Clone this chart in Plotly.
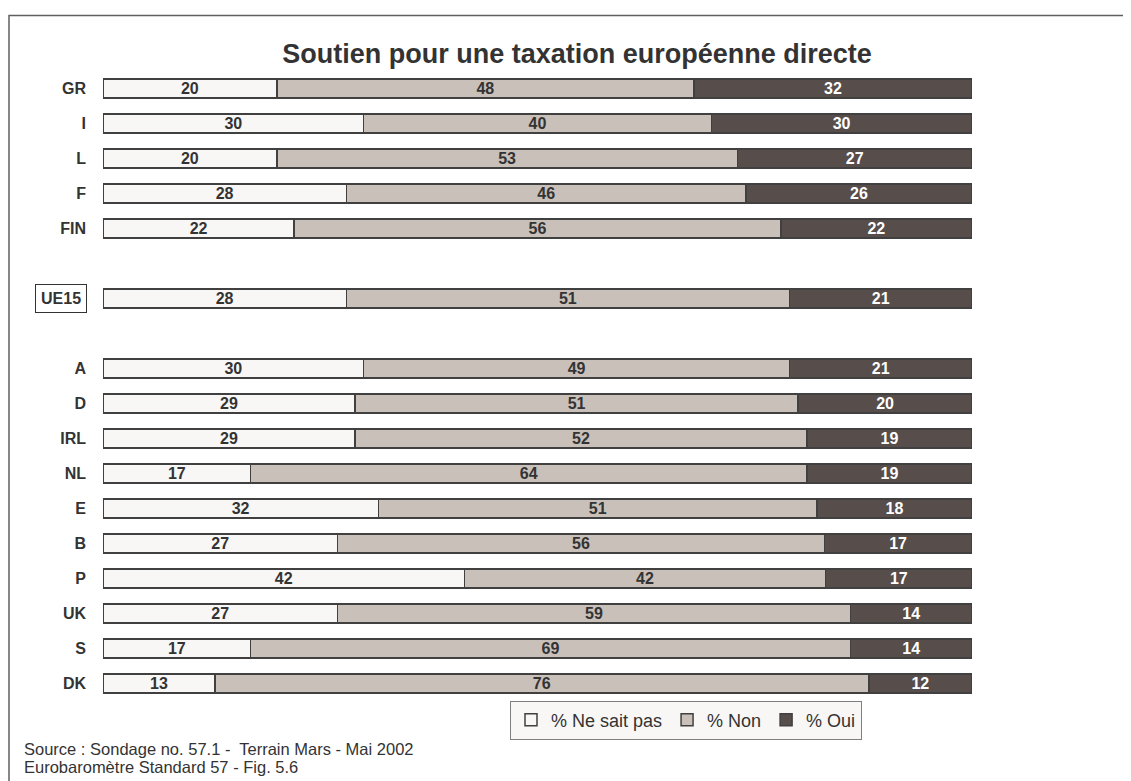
import plotly.graph_objects as go

# ---- data ----
countries = ["GR", "I", "L", "F", "FIN", " ", "UE15", "  ", "A", "D", "IRL", "NL", "E", "B", "P", "UK", "S", "DK"]
ne_sait_pas = [20, 30, 20, 28, 22, None, 28, None, 30, 29, 29, 17, 32, 27, 42, 27, 17, 13]
non = [48, 40, 53, 46, 56, None, 51, None, 49, 51, 52, 64, 51, 56, 42, 59, 69, 76]
oui = [32, 30, 27, 26, 22, None, 21, None, 21, 20, 19, 19, 18, 17, 17, 14, 14, 12]
series_names = ["% Ne sait pas", "% Non", "% Oui"]
tick_labels = [c if c != "UE15" else "" for c in countries]

title = "Soutien pour une taxation européenne directe"
source_lines = ["Source : Sondage no. 57.1 -  Terrain Mars - Mai 2002",
                "Eurobaromètre Standard 57 - Fig. 5.6"]

colors = ["#F8F7F5", "#C9C0BA", "#574D4B"]
text_colors = ["#333333", "#333333", "#FFFFFF"]
FONT = "Liberation Sans, Arial, sans-serif"

fig = go.Figure()
for name, vals, col, tcol in zip(series_names, [ne_sait_pas, non, oui], colors, text_colors):
    fig.add_trace(go.Bar(
        y=countries, x=vals, name=name, orientation="h",
        marker=dict(color=col, line=dict(color="#404040", width=1.5)),
        text=[str(v) if v is not None else "" for v in vals],
        textposition="inside", insidetextanchor="middle", textangle=0,
        constraintext="none",
        textfont=dict(family=FONT, size=16, color=tcol, weight="bold"),
        hoverinfo="skip",
    ))

# page body has an 8px margin: work in screen pixels, convert to figure pixels
OX, OY = 8, 8
W, H = 1131 - OX, 781 - OY
ml, mr, mt, mb = 103 - OX, 159, 70.5 - OY, 79.5
pw, ph = W - ml - mr, H - mt - mb

def px_x(px):
    return (px - OX - ml) / pw

def px_y(py):
    return (H - mb - (py - OY)) / ph

fig.update_layout(
    width=W, height=H,
    margin=dict(l=ml, r=mr, t=mt, b=mb, autoexpand=False),
    barmode="stack", barnorm="percent", bargap=0.457,
    paper_bgcolor="white", plot_bgcolor="white",
    font=dict(family=FONT, color="#333333"),
    title=dict(text=title, xref="paper", x=px_x(577), xanchor="center",
               yref="container", y=1 - (54 - OY) / H, yanchor="middle",
               font=dict(family=FONT, size=27, color="#333333", weight="bold")),
    xaxis=dict(visible=False, range=[0, 100], fixedrange=True),
    yaxis=dict(categoryorder="array", categoryarray=countries,
               tickvals=countries, ticktext=tick_labels,
               autorange="reversed", showgrid=False, zeroline=False,
               showline=False, ticks="", ticklabelstandoff=16,
               tickfont=dict(family=FONT, size=16, color="#333333", weight="bold")),
    legend=dict(orientation="h", x=px_x(510), xanchor="left", y=px_y(701), yanchor="top",
                bgcolor="#F8F7F5", bordercolor="#7F7F7F", borderwidth=1,
                font=dict(family=FONT, size=18, color="#333333"),
                traceorder="normal", itemclick=False, itemdoubleclick=False),
    showlegend=True,
)

# UE15 boxed label
fig.add_annotation(x=px_x(87), xref="paper", xanchor="right", y="UE15", yref="y",
                   text="UE15", showarrow=False, bordercolor="#333333", borderwidth=1,
                   borderpad=5, font=dict(family=FONT, size=16, color="#333333", weight="bold"))

# source lines
for i, line in enumerate(source_lines):
    fig.add_annotation(x=px_x(22), xref="paper", xanchor="left",
                       y=px_y(750 + 18 * i), yref="paper", yanchor="middle",
                       text=line, showarrow=False, align="left",
                       font=dict(family=FONT, size=16.5, color="#333333"))

# outer frame (left and top edges visible)
fig.add_shape(type="rect", xref="paper", yref="paper",
              x0=px_x(9), x1=px_x(1200), y0=px_y(850), y1=px_y(15),
              line=dict(color="#606060", width=1.5), layer="below")

fig.write_html("out.html")
